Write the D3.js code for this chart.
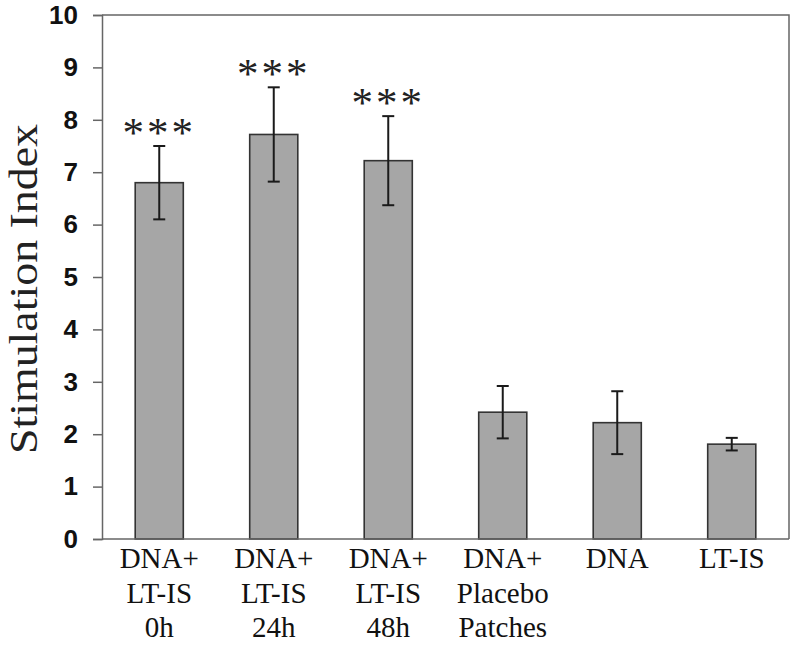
<!DOCTYPE html>
<html>
<head>
<meta charset="utf-8">
<script src="https://cdn.jsdelivr.net/npm/d3@7"></script>
<style>
    body { margin: 0; background: #fff; }
    svg { display: block; }
</style>
</head>
<body>
<svg id="chart"></svg>
<script>
// values
const groups = ["g1", "g2", "g3", "g4", "g5", "g6"];
const labelLines = [
    ["DNA+", "LT-IS", "0h"],
    ["DNA+", "LT-IS", "24h"],
    ["DNA+", "LT-IS", "48h"],
    ["DNA+", "Placebo", "Patches"],
    ["DNA"],
    ["LT-IS"]
];
const means = [6.8, 7.72, 7.22, 2.42, 2.22, 1.81];
const errors = [0.7, 0.9, 0.85, 0.5, 0.6, 0.12];
const stars = ["***", "***", "***", "", "", ""];
const yTicks = [0, 1, 2, 3, 4, 5, 6, 7, 8, 9, 10];

const serif = "Liberation Serif, Times New Roman, serif";
const width = 800, height = 648;
const margin = {top: 15, right: 11, bottom: 109, left: 102};

const svg = d3.select("#chart")
    .attr("width", width)
    .attr("height", height);

const x = d3.scaleBand()
    .domain(groups)
    .range([margin.left, width - margin.right])
    .paddingInner(0.58)
    .paddingOuter(0.29);

const y = d3.scaleLinear()
    .domain([0, 10])
    .range([height - margin.bottom, margin.top]);

// frame (top and right)
svg.append("path")
    .attr("d", `M${margin.left},${margin.top}H${width - margin.right}V${height - margin.bottom}`)
    .attr("fill", "none")
    .attr("stroke", "#666")
    .attr("stroke-width", 1.5);

// bars
svg.append("g")
    .selectAll("rect")
    .data(groups)
    .join("rect")
    .attr("x", d => x(d))
    .attr("y", (d, i) => y(means[i]))
    .attr("width", x.bandwidth())
    .attr("height", (d, i) => y(0) - y(means[i]))
    .attr("fill", "#a6a6a6")
    .attr("stroke", "#333")
    .attr("stroke-width", 1.6);

// error bars
const eb = svg.append("g")
    .attr("stroke", "#1a1a1a")
    .attr("stroke-width", 2);

groups.forEach((g, i) => {
    const cx = x(g) + x.bandwidth() / 2;
    const hi = y(means[i] + errors[i]);
    const lo = y(means[i] - errors[i]);
    eb.append("line").attr("x1", cx).attr("x2", cx).attr("y1", hi).attr("y2", lo);
    eb.append("line").attr("x1", cx - 6).attr("x2", cx + 6).attr("y1", hi).attr("y2", hi);
    eb.append("line").attr("x1", cx - 6).attr("x2", cx + 6).attr("y1", lo).attr("y2", lo);
});

// significance stars
svg.append("g")
    .selectAll("text")
    .data(groups)
    .join("text")
    .attr("x", d => x(d) + x.bandwidth() / 2)
    .attr("y", (d, i) => y(means[i] + errors[i]) + 1)
    .attr("text-anchor", "middle")
    .attr("font-family", serif)
    .attr("font-size", 43)
    .attr("letter-spacing", 3)
    .attr("fill", "#222")
    .text((d, i) => stars[i]);

// y axis
const yAxis = svg.append("g")
    .attr("transform", `translate(${margin.left},0)`)
    .call(d3.axisLeft(y).tickValues(yTicks).tickSize(9).tickPadding(15).tickFormat(d3.format("d")));

yAxis.select(".domain").attr("stroke", "#666").attr("stroke-width", 1.5);
yAxis.selectAll(".tick line").attr("stroke", "#666").attr("stroke-width", 1.5);
yAxis.selectAll(".tick text")
    .attr("font-family", "Liberation Sans, Arial, sans-serif")
    .attr("font-weight", "bold")
    .attr("font-size", 26)
    .attr("fill", "#111");

// x baseline
svg.append("line")
    .attr("x1", margin.left)
    .attr("x2", width - margin.right)
    .attr("y1", y(0))
    .attr("y2", y(0))
    .attr("stroke", "#666")
    .attr("stroke-width", 1.5);

// category labels, one text per line
groups.forEach((g, i) => {
    const cx = x(g) + x.bandwidth() / 2;
    labelLines[i].forEach((line, k) => {
        const t = svg.append("text")
            .attr("x", cx)
            .attr("y", y(0) + 29 + k * 34.5)
            .attr("text-anchor", "middle")
            .attr("font-family", serif)
            .attr("font-size", 29)
            .attr("fill", "#111")
            .text(line);
        // pin the measured length
        t.attr("textLength", t.node().getComputedTextLength())
            .attr("lengthAdjust", "spacingAndGlyphs");
    });
});

// y title
svg.append("text")
    .attr("transform", `translate(37,${(margin.top + y(0)) / 2 + 12}) rotate(-90)`)
    .attr("text-anchor", "middle")
    .attr("font-family", serif)
    .attr("font-size", 41)
    .attr("textLength", 330)
    .attr("lengthAdjust", "spacingAndGlyphs")
    .attr("fill", "#222")
    .text("Stimulation Index");
</script>
</body>
</html>
